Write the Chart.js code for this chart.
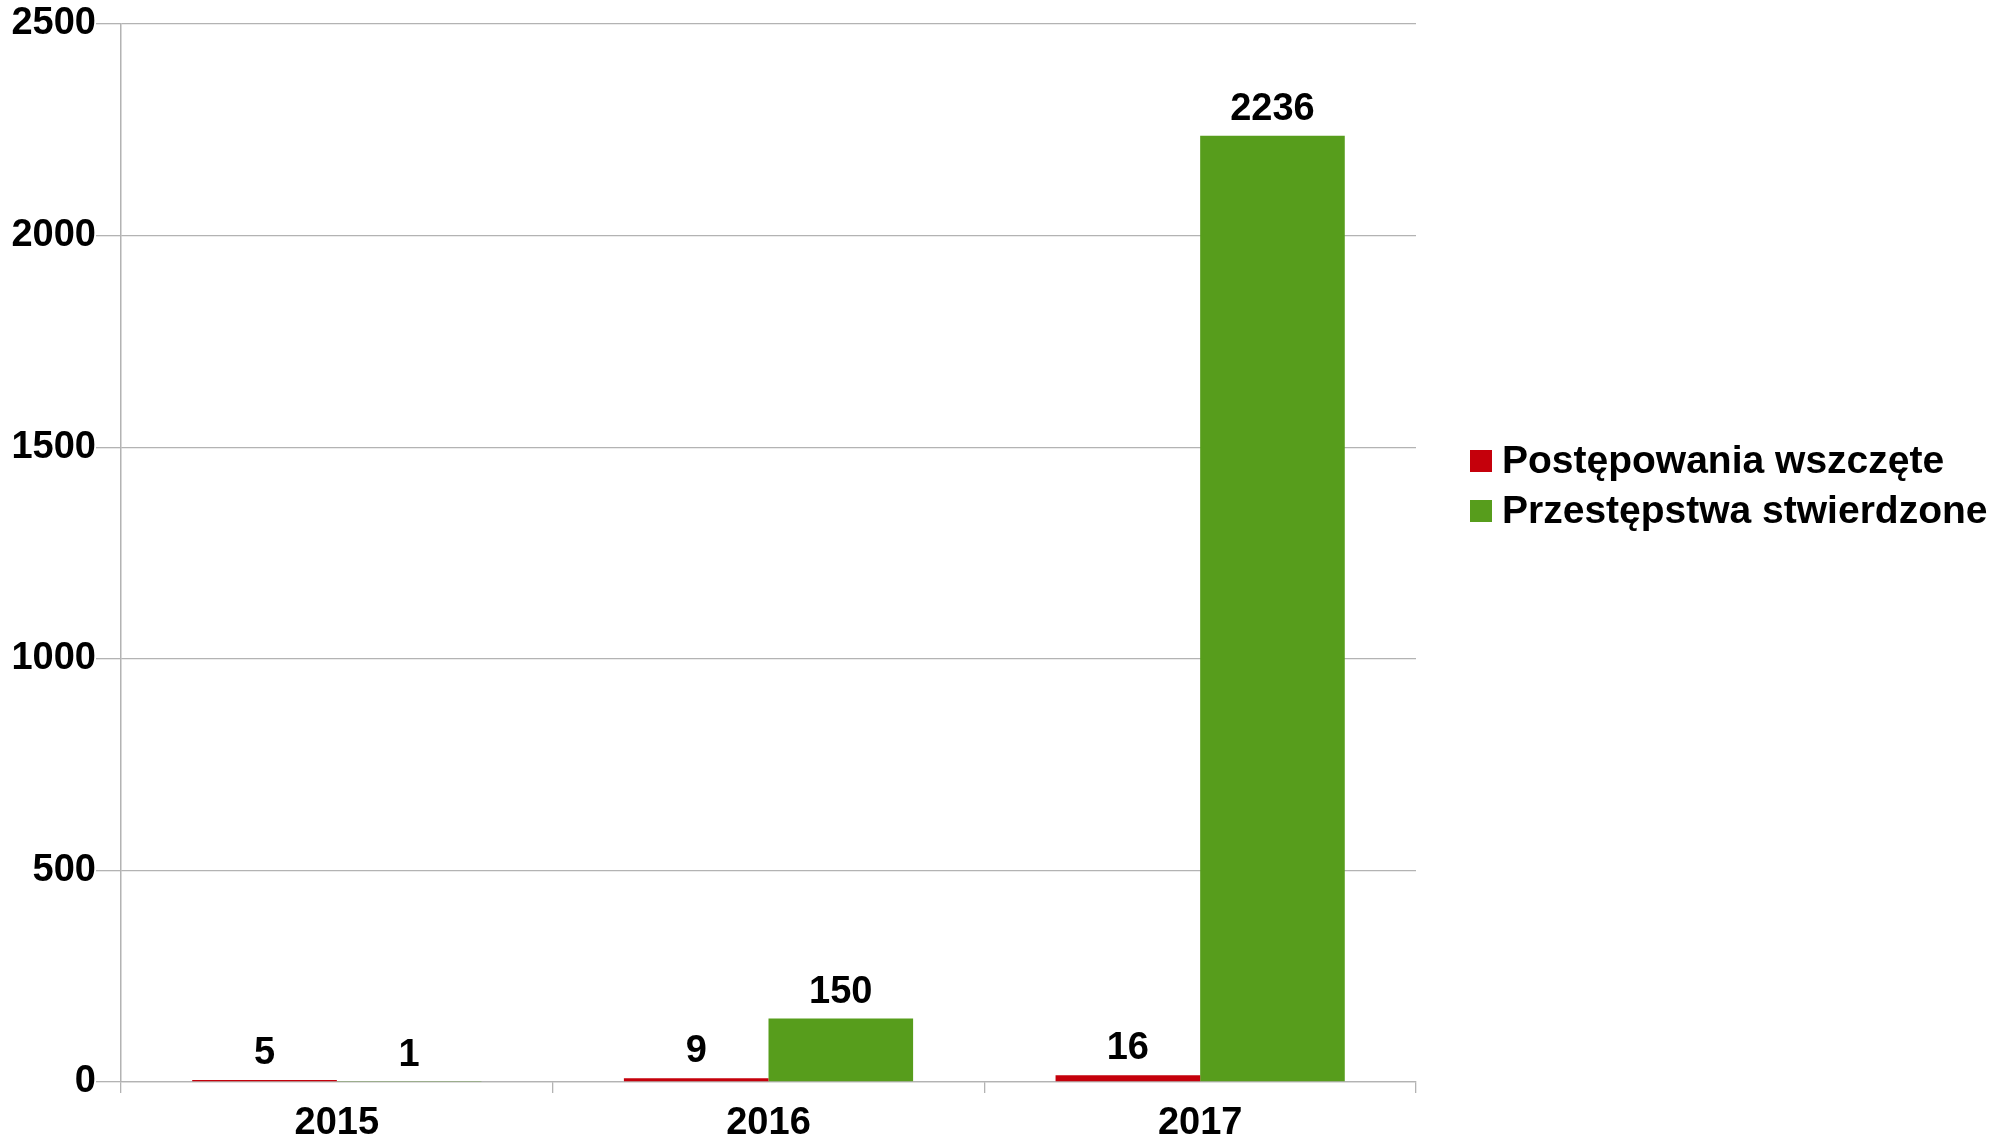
<!DOCTYPE html>
<html>
<head>
<meta charset="utf-8">
<script src="https://cdn.jsdelivr.net/npm/chart.js@4/dist/chart.umd.min.js"></script>
<style>
  html, body { margin: 0; padding: 0; background: #fff; }
  #wrap { position: relative; width: 2006px; height: 1137px; }
</style>
</head>
<body>
<div id="wrap"><canvas id="chart" width="2006" height="1137"></canvas></div>
<script>
var years = ['2015', '2016', '2017'];
var wszczete = [5, 9, 16];
var stwierdzone = [1, 150, 2236];
var seriesNames = ['Postępowania wszczęte', 'Przestępstwa stwierdzone'];
var yTicks = [0, 500, 1000, 1500, 2000, 2500];

var FONT = '"Liberation Sans", Arial, sans-serif';
var gridGray = '#b3b3b3';

// value labels above bars
var barLabels = {
    id: 'barLabels',
    afterDatasetsDraw: function(chart){
        var ctx = chart.ctx;
        ctx.save();
        ctx.font = 'bold 38px ' + FONT;
        ctx.fillStyle = '#000';
        ctx.textAlign = 'center';
        ctx.textBaseline = 'alphabetic';
        chart.data.datasets.forEach(function(ds, i){
            chart.getDatasetMeta(i).data.forEach(function(bar, j){
                ctx.fillText(String(ds.data[j]), bar.x, bar.y - 16);
            });
        });
        ctx.restore();
    }
};

// legend on the right
var sideLegend = {
    id: 'sideLegend',
    afterDraw: function(chart){
        var ctx = chart.ctx;
        ctx.save();
        ctx.font = 'bold 39px ' + FONT;
        ctx.textBaseline = 'middle';
        ctx.textAlign = 'left';
        chart.data.datasets.forEach(function(ds, i){
            var cy = 461 + i * 50;
            ctx.fillStyle = ds.backgroundColor;
            ctx.fillRect(1470, cy - 11, 22, 22);
            ctx.fillStyle = '#000';
            ctx.fillText(ds.label, 1502, cy + 1);
        });
        ctx.restore();
    }
};

new Chart(document.getElementById('chart'), {
    type: 'bar',
    data: {
        labels: years,
        datasets: [
            { label: seriesNames[0], data: wszczete, backgroundColor: '#C5000B' },
            { label: seriesNames[1], data: stwierdzone, backgroundColor: '#579D1C' }
        ]
    },
    options: {
        responsive: false,
        animation: false,
        layout: { padding: { left: 0, right: 590, top: 24, bottom: 0 } },
        datasets: { bar: { categoryPercentage: 0.67, barPercentage: 1 } },
        plugins: { legend: { display: false }, tooltip: { enabled: false } },
        scales: {
            x: {
                grid: {
                    offset: true,
                    color: function(c){ return (c.index === 0 || c.index === years.length) ? gridGray : 'rgba(0,0,0,0)'; },
                    tickColor: gridGray,
                    tickLength: 11,
                    lineWidth: 1.3
                },
                border: { display: true, color: gridGray, width: 1.3 },
                ticks: { color: '#000', font: { family: FONT, size: 38, weight: 'bold' }, padding: 8 },
                afterFit: function(s){ s.height = 55; }
            },
            y: {
                min: 0,
                max: 2500,
                afterBuildTicks: function(s){ s.ticks = yTicks.map(function(v){ return { value: v }; }); },
                grid: { color: gridGray, tickColor: gridGray, tickLength: 25, lineWidth: 1.3 },
                border: { display: true, color: gridGray, width: 1.3 },
                ticks: {
                    color: '#000',
                    font: { family: FONT, size: 38, weight: 'bold' },
                    padding: 0,
                    callback: function(v){ return String(v); }
                },
                afterFit: function(s){ s.width = 121; }
            }
        }
    },
    plugins: [barLabels, sideLegend]
});
</script>
</body>
</html>
